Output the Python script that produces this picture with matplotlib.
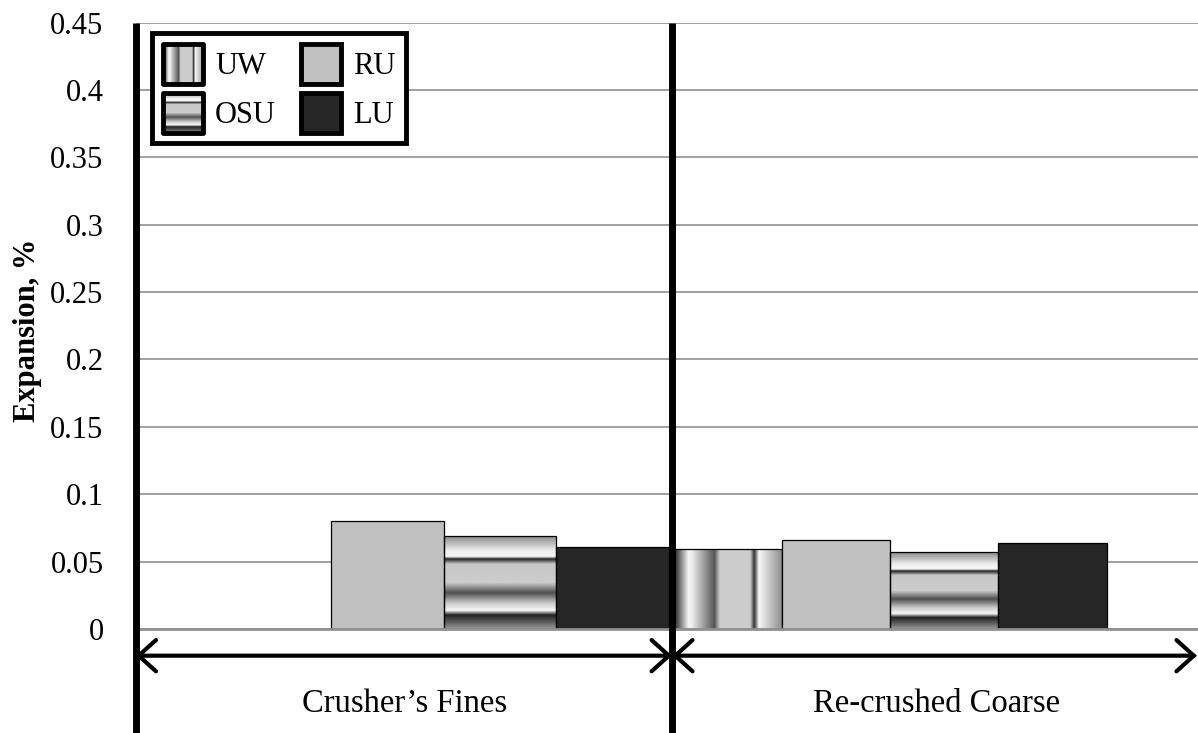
import numpy as np
import matplotlib
matplotlib.use("Agg")
import matplotlib.pyplot as plt
from matplotlib.patches import Rectangle
from matplotlib.legend_handler import HandlerBase
from matplotlib.image import BboxImage
from matplotlib.transforms import Bbox, TransformedBbox
from matplotlib.colors import Normalize

# ---------------- data ----------------
categories = ["Crusher\u2019s Fines", "Re-crushed Coarse"]
series_names = ["UW", "RU", "OSU", "LU"]
uw_values = [np.nan, 0.059]
ru_values = [0.080, 0.066]
osu_values = [0.069, 0.057]
lu_values = [0.061, 0.064]
ytick_values = [0, 0.05, 0.1, 0.15, 0.2, 0.25, 0.3, 0.35, 0.4, 0.45]
ytick_labels = ["0", "0.05", "0.1", "0.15", "0.2", "0.25", "0.3", "0.35", "0.4", "0.45"]

# ---------------- style ----------------
plt.rcParams['font.family'] = ['Liberation Serif', 'DejaVu Serif']
FS = 22
CAT_FS = 23.5
RU_COLOR = "#c0c0c0"
LU_COLOR = "#262626"
GRID_COLOR = "#a0a0a0"

# metallic gradient profiles (position, gray level)
uw_stops = [(0.0, 0.42), (0.03, 0.25), (0.14, 0.96), (0.17, 0.94), (0.31, 0.54),
            (0.38, 0.33), (0.43, 0.80), (0.71, 0.80), (0.747, 0.20), (0.79, 0.97), (1.0, 0.56)]
osu_stops = [(0.0, 0.54), (0.16, 0.94), (0.22, 0.96), (0.245, 0.13), (0.30, 0.78),
             (0.50, 0.80), (0.61, 0.31), (0.72, 0.78), (0.80, 0.97), (0.85, 0.13), (1.0, 0.60)]


def profile(stops, n=256):
    p = np.array([s[0] for s in stops])
    v = np.array([s[1] for s in stops])
    return np.interp(np.linspace(0, 1, n), p, v)


uw_img = profile(uw_stops)[np.newaxis, :]      # varies left->right
osu_img = profile(osu_stops)[:, np.newaxis]    # varies top->bottom

fig = plt.figure(figsize=(11.98, 7.33), dpi=100)
ax = fig.add_axes([135.5 / 1198, (733 - 629) / 733, 1 - 135.5 / 1198, (629 - 22.5) / 733])

# bar layout (positions only)
group_left = [0.156, 1.0118]
group_width = [0.212, 0.2042]
series_values = [uw_values, ru_values, osu_values, lu_values]
series_fill = ["uw", RU_COLOR, "osu", LU_COLOR]

for g in range(len(categories)):
    for s, vals in enumerate(series_values):
        v = vals[g]
        if np.isnan(v):
            continue
        x0 = group_left[g] + s * group_width[g]
        w = group_width[g]
        fill = series_fill[s]
        if fill in ("uw", "osu"):
            img = uw_img if fill == "uw" else osu_img
            ax.imshow(img, extent=(x0, x0 + w, 0, v), aspect='auto', cmap='gray',
                      norm=Normalize(0, 1), interpolation='bilinear', zorder=2, origin='upper')
            ax.bar(x0, v, width=w, align='edge', facecolor='none', edgecolor='black', lw=0.9, zorder=3)
        else:
            ax.bar(x0, v, width=w, align='edge', facecolor=fill, edgecolor='black', lw=0.9, zorder=3)

ax.set_xlim(0, 2)
ax.set_ylim(0, 0.45)
ax.set_yticks(ytick_values)
ax.set_yticklabels(ytick_labels, fontsize=FS)
ax.tick_params(axis='y', length=0, pad=23)
ax.set_xticks([0.507, 1.508])
ax.set_xticklabels(categories, fontsize=CAT_FS)
ax.tick_params(axis='x', length=0, pad=43)

ax.yaxis.grid(True, color=GRID_COLOR, lw=1.4)
ax.set_axisbelow(True)
for sp in ['top', 'right', 'left']:
    ax.spines[sp].set_visible(False)
ax.spines['bottom'].set_color("#909090")
ax.spines['bottom'].set_linewidth(2.0)
ax.spines['bottom'].set_zorder(4)

ax.set_ylabel("Expansion, %", fontsize=FS, fontweight='bold', va='center', ha='center')
ax.yaxis.set_label_coords(-0.102, 0.492)

# thick vertical lines (left axis and group divider) extending below the axis
trans = ax.get_xaxis_transform()
divider_x = 1.01
for xv in [0.0, divider_x]:
    ax.plot([xv, xv], [-0.3, 1.0], transform=trans, color='black', lw=5, clip_on=False,
            zorder=5, solid_capstyle='butt')

# double-headed arrows under each category
arrow_y = -0.044
arrow_style = "<->,head_length=0.5,head_width=0.45"
for xa, xb in [(0.0, divider_x), (divider_x, 1.998)]:
    ax.annotate("", xy=(xb, arrow_y), xytext=(xa, arrow_y), xycoords=trans, textcoords=trans,
                arrowprops=dict(arrowstyle=arrow_style, lw=3, color='black', shrinkA=0, shrinkB=0,
                                mutation_scale=25, joinstyle='miter'),
                annotation_clip=False)


# ---------------- legend ----------------
class GradientHandler(HandlerBase):
    def __init__(self, arr):
        super().__init__()
        self.arr = arr

    def create_artists(self, legend, orig_handle, xdescent, ydescent, width, height, fontsize, trans):
        bb = TransformedBbox(Bbox.from_bounds(-xdescent, -ydescent, width, height), trans)
        im = BboxImage(bb, cmap='gray', norm=Normalize(0, 1), interpolation='bilinear')
        im.set_data(self.arr)
        rect = Rectangle((-xdescent, -ydescent), width, height, facecolor='none',
                         edgecolor='black', lw=3.5, transform=trans, joinstyle='round')
        return [im, rect]


h_uw = Rectangle((0, 0), 1, 1, facecolor='none')
h_osu = Rectangle((0, 0), 1, 1, facecolor='none')
h_ru = Rectangle((0, 0), 1, 1, facecolor=RU_COLOR, edgecolor='black', lw=3.5, joinstyle='round')
h_lu = Rectangle((0, 0), 1, 1, facecolor=LU_COLOR, edgecolor='black', lw=3.5, joinstyle='round')

leg = ax.legend([h_uw, h_osu, h_ru, h_lu], ["UW", "OSU", "RU", "LU"], ncol=2,
                loc='upper left', bbox_to_anchor=(0.0155, 0.983), borderaxespad=0,
                fontsize=FS, handlelength=1.31, handleheight=1.64, handletextpad=0.4,
                columnspacing=0.82, labelspacing=0.3, borderpad=0.35, fancybox=False,
                edgecolor='black', framealpha=1,
                handler_map={h_uw: GradientHandler(uw_img), h_osu: GradientHandler(osu_img)})
leg.get_frame().set_linewidth(3.5)
leg.set_zorder(6)

fig.savefig("out.png", dpi=100)
